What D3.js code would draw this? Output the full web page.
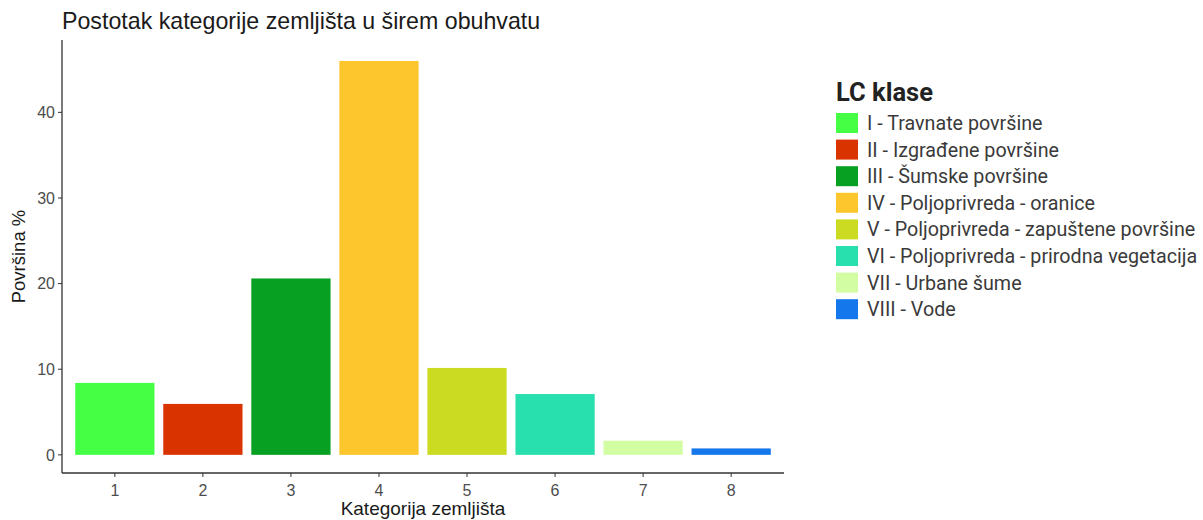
<!DOCTYPE html>
<html>
<head>
<meta charset="utf-8">
<script src="https://cdn.jsdelivr.net/npm/d3@7"></script>
<style>
  html, body { margin: 0; padding: 0; background: #ffffff; }
  svg { display: block; }
</style>
</head>
<body>
<svg id="chart" width="1203" height="520"></svg>
<script>
// ---- data ----
const categories = ["1", "2", "3", "4", "5", "6", "7", "8"];
const values = [8.4, 5.95, 20.6, 46.0, 10.15, 7.1, 1.65, 0.75];
const classLabels = [
  "I - Travnate površine",
  "II - Izgrađene površine",
  "III - Šumske površine",
  "IV - Poljoprivreda - oranice",
  "V - Poljoprivreda - zapuštene površine",
  "VI - Poljoprivreda - prirodna vegetacija",
  "VII - Urbane šume",
  "VIII - Vode"
];
const classColors = ["#45FF45", "#D93300", "#08A022", "#FCC62C", "#CBDB22", "#28E0AD", "#D3FDA2", "#1478EC"];
const yTicks = [0, 10, 20, 30, 40];
const titleText = "Postotak kategorije zemljišta u širem obuhvatu";
const xTitle = "Kategorija zemljišta";
const yTitle = "Površina %";
const legendTitle = "LC klase";

// ---- layout ----
const panel = { left: 62, right: 784, top: 40, bottom: 473 };
const svg = d3.select("#chart");
const axisColor = "#333333";
const tickText = "#4d4d4d";
const baseFont = "'Liberation Sans', Arial, sans-serif";

// ggplot-like discrete scale: 0.6 units expansion each side, bar width 0.9
const x = d3.scalePoint()
  .domain(categories)
  .range([panel.left, panel.right])
  .padding(0.6);
const unit = x.step();
const barW = 0.9 * unit;

const y = d3.scaleLinear()
  .domain([-2.12, 48.45])
  .range([panel.bottom, panel.top]);

// bars
svg.append("g").selectAll("rect")
  .data(categories)
  .join("rect")
  .attr("x", d => x(d) - barW / 2)
  .attr("width", barW)
  .attr("y", (d, i) => y(values[i]))
  .attr("height", (d, i) => y(0) - y(values[i]))
  .attr("fill", (d, i) => classColors[i]);

// axes lines
svg.append("line")
  .attr("x1", panel.left).attr("x2", panel.left)
  .attr("y1", panel.top).attr("y2", panel.bottom)
  .attr("stroke", axisColor).attr("stroke-width", 1.3);
svg.append("line")
  .attr("x1", panel.left).attr("x2", panel.right)
  .attr("y1", panel.bottom).attr("y2", panel.bottom)
  .attr("stroke", axisColor).attr("stroke-width", 1.3);

// y axis ticks
const yg = svg.append("g");
yg.selectAll("line").data(yTicks).join("line")
  .attr("x1", panel.left - 4).attr("x2", panel.left)
  .attr("y1", d => y(d)).attr("y2", d => y(d))
  .attr("stroke", axisColor).attr("stroke-width", 1);
yg.selectAll("text").data(yTicks).join("text")
  .attr("x", panel.left - 7)
  .attr("y", d => y(d))
  .attr("dy", "0.36em")
  .attr("text-anchor", "end")
  .attr("font-family", baseFont)
  .attr("font-size", 16)
  .attr("fill", tickText)
  .text(d => d);

// x axis ticks
const xg = svg.append("g");
xg.selectAll("line").data(categories).join("line")
  .attr("x1", d => x(d)).attr("x2", d => x(d))
  .attr("y1", panel.bottom).attr("y2", panel.bottom + 4)
  .attr("stroke", axisColor).attr("stroke-width", 1);
xg.selectAll("text").data(categories).join("text")
  .attr("x", d => x(d))
  .attr("y", panel.bottom + 23)
  .attr("text-anchor", "middle")
  .attr("font-family", baseFont)
  .attr("font-size", 16)
  .attr("fill", tickText)
  .text(d => d);

// titles
svg.append("text")
  .attr("x", 62).attr("y", 29)
  .attr("font-family", baseFont)
  .attr("font-size", 23.2)
  .attr("fill", "#1a1a1a")
  .text(titleText);

svg.append("text")
  .attr("x", (panel.left + panel.right) / 2)
  .attr("y", 515)
  .attr("text-anchor", "middle")
  .attr("font-family", baseFont)
  .attr("font-size", 19)
  .attr("fill", "#1a1a1a")
  .text(xTitle);

svg.append("text")
  .attr("transform", `translate(25, ${(panel.top + panel.bottom) / 2}) rotate(-90)`)
  .attr("text-anchor", "middle")
  .attr("font-family", baseFont)
  .attr("font-size", 18.5)
  .attr("fill", "#1a1a1a")
  .text(yTitle);

// legend
const lg = svg.append("g").attr("transform", "translate(836, 0)");
lg.append("text")
  .attr("x", 0).attr("y", 101)
  .attr("font-family", "Roboto, sans-serif")
  .attr("font-weight", "bold")
  .attr("font-size", 25.5)
  .attr("fill", "#222")
  .text(legendTitle);
const rowStep = 26.6;
const rows = lg.selectAll("g.row").data(classLabels).join("g")
  .attr("class", "row")
  .attr("transform", (d, i) => `translate(0, ${113 + i * rowStep})`);
rows.append("rect")
  .attr("width", 22).attr("height", 20)
  .attr("fill", (d, i) => classColors[i]);
rows.append("text")
  .attr("x", 31).attr("y", 10)
  .attr("dy", "0.36em")
  .attr("font-family", "Roboto, sans-serif")
  .attr("font-size", 19.7)
  .attr("fill", "#3a3a3a")
  .text(d => d);
</script>
</body>
</html>
